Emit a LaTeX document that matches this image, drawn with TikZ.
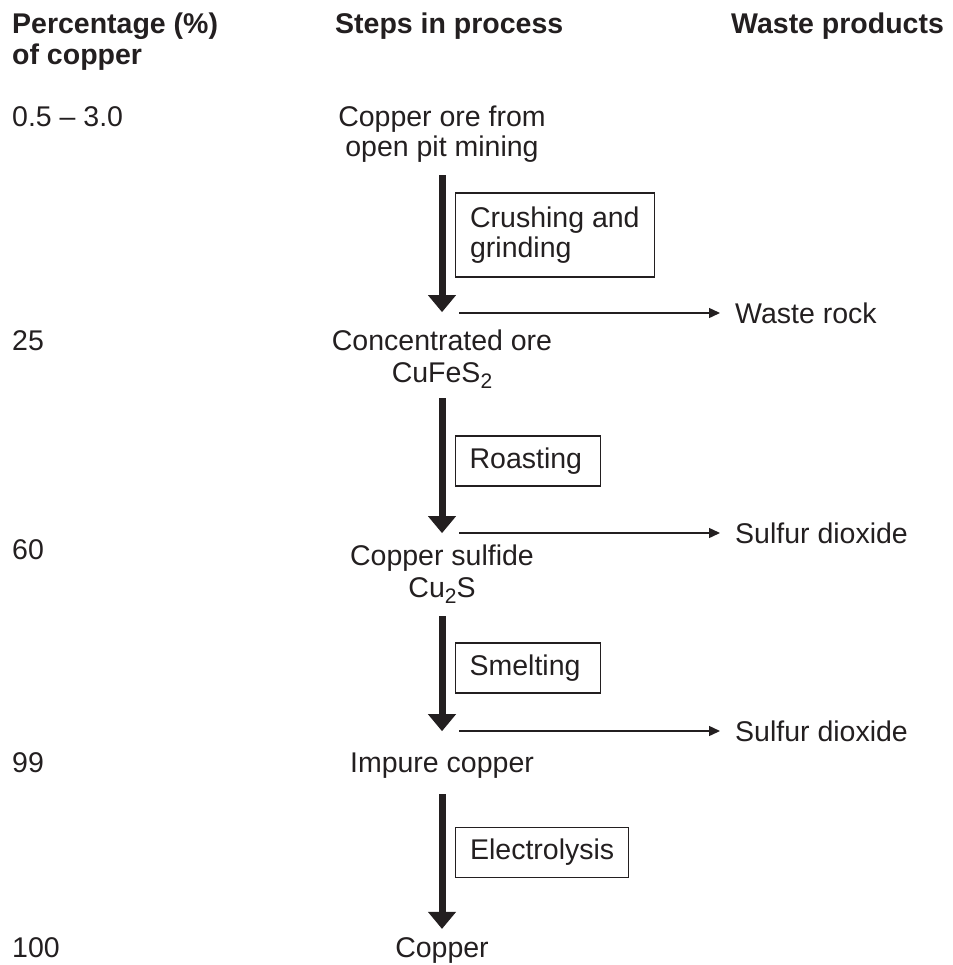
\documentclass[tikz,border=0pt]{standalone}
\usepackage{fontspec}
\setmainfont{Liberation Sans}
\usetikzlibrary{arrows.meta}
\definecolor{ink}{HTML}{231F20}
\newcommand\subtwo{\raisebox{-6pt}{\fontsize{21}{21}\selectfont 2}}
\begin{document}
\begin{tikzpicture}[x=1pt,y=-1pt,
  every node/.style={inner sep=0pt, text=ink, font=\fontsize{28.5}{30}\selectfont},
  head/.style={font=\fontsize{28.5}{31}\selectfont\bfseries, align=left, anchor=base west},
  pct/.style={anchor=base west},
  stage/.style={anchor=base, align=center},
  stepbox/.style={draw=ink, line width=1.2pt, anchor=west, inner xsep=14.5pt, minimum height=50pt},
  waste/.style={anchor=west},
  bigarrow/.style={draw=ink, line width=7pt, -{Triangle[length=17pt,width=27pt]}},
  thinarrow/.style={draw=ink, line width=1.4pt, -{Triangle[length=11pt,width=10pt]}, shorten >=15pt},
]
\useasboundingbox (0,0) rectangle (952,965);

% headers (base anchor of a multi-line node = last line)
\node[head] (h1) at (12,65) {Percentage (\%)\\of copper};
\node[head] (h2) at (335,34) {Steps in process};
\node[head] (h3) at (731,34) {Waste products};

% percentages
\node[pct] (p1) at (12,127) {0.5 – 3.0};
\node[pct] (p2) at (12,350) {25};
\node[pct] (p3) at (12,559) {60};
\node[pct] (p4) at (12,772) {99};
\node[pct] (p5) at (12,957) {100};

% stages
\node[stage] (s1) at (442,157) {Copper ore from\\open pit mining};
\node[stage] (s2) at (442,382) {Concentrated ore\\[2pt]CuFeS\subtwo};
\node[stage] (s3) at (442,597) {Copper sulfide\\[2pt]Cu\subtwo S};
\node[stage] (s4) at (442,772) {Impure copper};
\node[stage] (s5) at (442,957) {Copper};

% process step boxes
\node[stepbox, minimum height=84pt, align=left] (b1) at (455,235) {Crushing and\\grinding};
\node[stepbox, text width=117pt, align=left, inner xsep=14pt] (b2) at (455,461) {Roasting};
\node[stepbox, text width=117pt, align=left, inner xsep=14pt] (b3) at (455,668) {Smelting};
\node[stepbox] (b4) at (455,852.5) {Electrolysis};

% waste products
\node[waste] (w1) at (735,313) {Waste rock};
\node[waste] (w2) at (735,533) {Sulfur dioxide};
\node[waste] (w3) at (735,731) {Sulfur dioxide};

% main flow
\draw[bigarrow, shorten <=12pt, shorten >=17pt] (s1) -- (s2);
\draw[bigarrow, shorten <=10pt, shorten >=11pt] (s2) -- (s3);
\draw[bigarrow, shorten <=13pt, shorten >=21pt] (s3) -- (s4);
\draw[bigarrow, shorten <=16pt, shorten >=8pt] (s4) -- (s5);

% waste branches
\coordinate (j1) at (459,313);
\coordinate (j2) at (459,533);
\coordinate (j3) at (459,731);
\draw[thinarrow] (j1) -- (w1.west);
\draw[thinarrow] (j2) -- (w2.west);
\draw[thinarrow] (j3) -- (w3.west);
\end{tikzpicture}
\end{document}
